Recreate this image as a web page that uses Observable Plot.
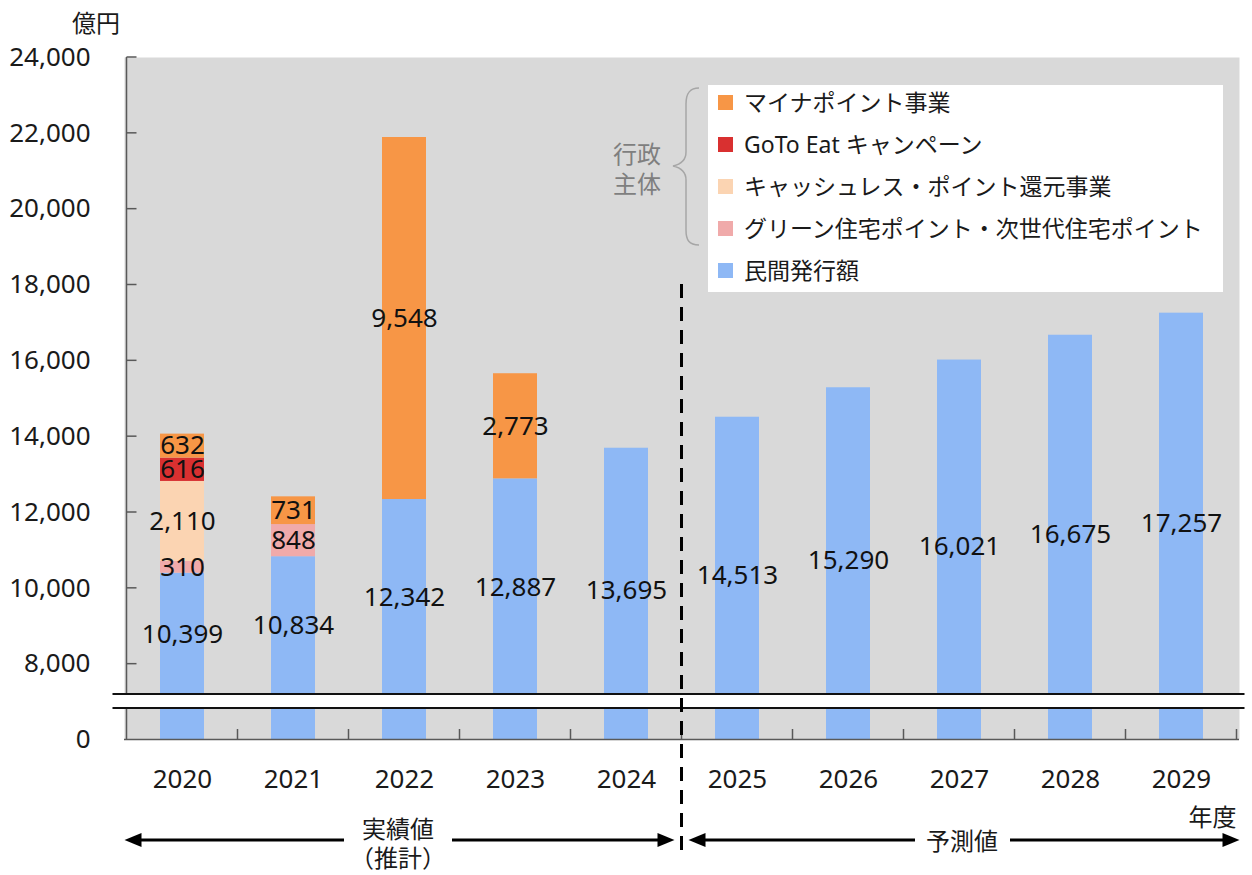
<!DOCTYPE html>
<html><head><meta charset="utf-8">
<script src="https://cdn.jsdelivr.net/npm/d3@7"></script>
<script src="https://cdn.jsdelivr.net/npm/@observablehq/plot@0.6"></script>
<style>body{margin:0;background:#fff;}</style>
</head><body><div id="chart"></div>
<script>
const years = ["2020","2021","2022","2023","2024","2025","2026","2027","2028","2029"];
const privateIssue = [10399, 10834, 12342, 12887, 13695, 14513, 15290, 16021, 16675, 17257];
const greenHousing = [310, 848, 0, 0, 0, 0, 0, 0, 0, 0];
const cashless     = [2110, 0, 0, 0, 0, 0, 0, 0, 0, 0];
const gotoEat      = [616, 0, 0, 0, 0, 0, 0, 0, 0, 0];
const mynaPoint    = [632, 731, 9548, 2773, 0, 0, 0, 0, 0, 0];
const seriesNames = ["民間発行額", "グリーン住宅ポイント・次世代住宅ポイント", "キャッシュレス・ポイント還元事業", "GoTo Eat キャンペーン", "マイナポイント事業"];
const seriesColors = ["#8EB8F5", "#F0AAAA", "#FBD4B2", "#D93030", "#F79646"];
const legendOrder = ["マイナポイント事業", "GoTo Eat キャンペーン", "キャッシュレス・ポイント還元事業", "グリーン住宅ポイント・次世代住宅ポイント", "民間発行額"];
const yTicks = [0, 8000, 10000, 12000, 14000, 16000, 18000, 20000, 22000, 24000];

const FONT = '"Noto Sans", "Noto Sans CJK JP", sans-serif';
const fmt = d3.format(",");
const seriesValues = [privateIssue, greenHousing, cashless, gotoEat, mynaPoint];
const table = [];
seriesNames.forEach((s, si) => years.forEach((yr, i) => {
  const v = seriesValues[si][i];
  if (v > 0) table.push({year: yr, series: s, value: v});
}));

const yOpts = {type: "linear", domain: [0, 7200, 24000], range: [739, 694, 57], label: null};
const yS = Plot.scale({y: yOpts});
const privLabels = privateIssue.map((v, i) => ({
  year: years[i], value: v,
  ly: yS.invert((yS.apply(0) + yS.apply(v)) / 2),
  stacked: greenHousing[i] + cashless[i] + gotoEat[i] + mynaPoint[i] > 0
}));

const plot = Plot.plot({
  width: 1252, height: 875,
  marginLeft: 124, marginRight: 13, marginTop: 57, marginBottom: 136,
  style: {fontFamily: FONT, fontSize: "26px", color: "#1a1a1a", background: "transparent"},
  x: {domain: years, paddingInner: 0.6, paddingOuter: 0.3, label: null},
  y: yOpts,
  color: {domain: seriesNames, range: seriesColors},
  marks: [
    Plot.frame({fill: "#d9d9d9", stroke: "none"}),
    Plot.barY(table, Plot.stackY({x: "year", y: "value", fill: "series", z: "series", order: seriesNames})),
    Plot.text(table, Plot.stackY({x: "year", y: "value", z: "series", order: seriesNames,
      text: d => d.series === seriesNames[0] ? null : fmt(d.value), fill: "#111", fontSize: 26})),
    Plot.text(privLabels.filter(d => d.stacked), {x: "year", y: "ly", text: d => fmt(d.value), fill: "#111", fontSize: 26, dy: -22}),
    Plot.text(privLabels.filter(d => !d.stacked), {x: "year", y: "ly", text: d => fmt(d.value), fill: "#111", fontSize: 26, dy: -3}),
    Plot.ruleY([0], {stroke: "#595959", strokeWidth: 1.5}),
    Plot.axisY({ticks: yTicks, tickFormat: fmt, tickSize: 0, tickPadding: 34, fontSize: 26, fill: "#1a1a1a"}),
    Plot.axisX({tickSize: 0, tickPadding: 30, fontSize: 26, fill: "#1a1a1a"})
  ]
});
document.getElementById("chart").appendChild(plot);

// overlay annotations positioned through the plot's scales
const svg = d3.select(plot);
const xS = plot.scale("x");
const step = xS.step, bw = xS.bandwidth;
const cx = yr => xS.apply(yr) + bw / 2;
const y = v => yS.apply(v);
const left = cx(years[0]) - step / 2;
const right = cx(years[years.length - 1]) + step / 2;
const g = svg.append("g").attr("text-anchor", "start");
const axisColor = "#595959";

// left axis line
g.append("line").attr("x1", left).attr("x2", left).attr("y1", y(24000)).attr("y2", y(0))
  .attr("stroke", axisColor).attr("stroke-width", 1.5);
// y ticks (inside)
yTicks.filter(t => t > 0).forEach(t => {
  g.append("line").attr("x1", left).attr("x2", left + 10).attr("y1", y(t)).attr("y2", y(t))
    .attr("stroke", axisColor).attr("stroke-width", 1.5);
});
// x ticks at band boundaries (inside)
years.forEach((yr, i) => {
  const bx = cx(yr) + step / 2;
  g.append("line").attr("x1", bx).attr("x2", bx).attr("y1", y(0) - 10).attr("y2", y(0))
    .attr("stroke", axisColor).attr("stroke-width", 1.5);
});

// axis break
const bTop = y(7200), bBot = y(7200) + 14;
g.append("rect").attr("x", left - 14).attr("y", bTop).attr("width", right - left + 22).attr("height", bBot - bTop).attr("fill", "#fff");
[bTop, bBot].forEach(yy => g.append("line").attr("x1", left - 14).attr("x2", right + 8).attr("y1", yy).attr("y2", yy)
  .attr("stroke", "#111").attr("stroke-width", 2));

// dashed separator between actual and forecast
const sepX = cx("2025") - step / 2;
g.append("line").attr("x1", sepX).attr("x2", sepX).attr("y1", 284).attr("y2", 857)
  .attr("stroke", "#000").attr("stroke-width", 3).attr("stroke-dasharray", "14 9");

// legend
const color = plot.scale("color");
const lg = g.append("g");
lg.append("rect").attr("x", 708).attr("y", 85).attr("width", 515).attr("height", 207).attr("fill", "#fff");
legendOrder.forEach((name, i) => {
  const cy = 102 + i * 42;
  lg.append("rect").attr("x", 718).attr("y", cy - 7).attr("width", 15).attr("height", 15)
    .attr("fill", color.apply(name));
  lg.append("text").attr("x", 744).attr("y", cy).attr("text-anchor", "start").attr("dominant-baseline", "central")
    .attr("font-family", FONT).attr("font-size", 23).attr("fill", "#1a1a1a").text(name);
});
// brace
g.append("path").attr("d", "M699,88 C689,88 686,94 686,104 L686,152 C686,160 682,164 673,166 C682,168 686,172 686,180 L686,230 C686,240 689,245 699,245")
  .attr("fill", "none").attr("stroke", "#a6a6a6").attr("stroke-width", 1.5);
[["行政", 153], ["主体", 183]].forEach(([t, yy]) => {
  g.append("text").attr("x", 637).attr("y", yy).attr("text-anchor", "middle").attr("dominant-baseline", "central")
    .attr("font-family", FONT).attr("font-size", 24).attr("fill", "#7f7f7f").text(t);
});

// unit labels
function txt(t, x, yy, anchor = "middle", size = 24) {
  g.append("text").attr("x", x).attr("y", yy).attr("text-anchor", anchor).attr("dominant-baseline", "central")
    .attr("font-family", FONT).attr("font-size", size).attr("fill", "#1a1a1a").text(t);
}
txt("億円", 96, 22);
txt("年度", right, 816, "end");
txt("実績値", 398, 828);
txt("（推計）", 398, 857);
txt("予測値", 962, 840);

// arrows
const ay = 840;
function arrowLine(x1, x2) {
  g.append("line").attr("x1", x1).attr("x2", x2).attr("y1", ay).attr("y2", ay).attr("stroke", "#000").attr("stroke-width", 3);
}
function head(tip, dir) {
  g.append("path").attr("d", `M${tip},${ay} L${tip - dir * 17},${ay - 7} L${tip - dir * 17},${ay + 7} Z`).attr("fill", "#000");
}
arrowLine(left + 10, 344); head(left - 2, -1);
arrowLine(452, sepX - 18); head(sepX - 7, 1);
arrowLine(sepX + 18, 915); head(sepX + 7, -1);
arrowLine(1010, right - 6); head(right + 3, 1);
</script>
</body></html>
